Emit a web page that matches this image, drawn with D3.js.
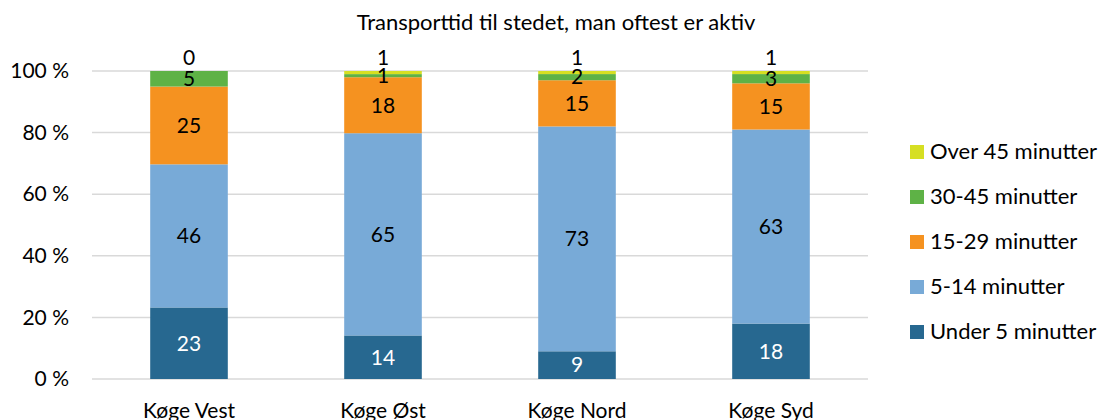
<!DOCTYPE html>
<html>
<head>
<meta charset="utf-8">
<script src="https://cdn.jsdelivr.net/npm/d3@7"></script>
<style>
  html, body { margin: 0; padding: 0; background: #fff; }
  svg { display: block; font-family: Lato, "Open Sans", sans-serif; }
</style>
</head>
<body>
<svg id="chart" width="1100" height="420"></svg>
<script>
// Areas and travel-time groups
const categories = ["Køge Vest", "Køge Øst", "Køge Nord", "Køge Syd"];
const seriesNames = ["Under 5 minutter", "5-14 minutter", "15-29 minutter", "30-45 minutter", "Over 45 minutter"];
const under5   = [23, 14, 9, 18];
const min5to14 = [46, 65, 73, 63];
const min15to29 = [25, 18, 15, 15];
const min30to45 = [5, 1, 2, 3];
const over45   = [0, 1, 1, 1];
const seriesValues = [under5, min5to14, min15to29, min30to45, over45];
const yTicks = [0, 20, 40, 60, 80, 100];
const title = "Transporttid til stedet, man oftest er aktiv";

const colors = ["#276890", "#78aad7", "#f59220", "#5eb246", "#d6df23"];
const labelColors = ["#ffffff", "#000000", "#000000", "#000000", "#000000"];

const FONT = "Lato, 'Open Sans', sans-serif";
const svg = d3.select("#chart");
const margin = { left: 92, right: 232, top: 71, bottom: 41 };
const W = 1100, H = 420;

const x = d3.scaleBand()
  .domain(categories)
  .range([margin.left, W - margin.right])
  .paddingInner(0.6)
  .paddingOuter(0.3);

const y = d3.scaleLinear()
  .domain([0, 1])
  .range([H - margin.bottom, margin.top]);

// rows for the stack
const rows = categories.map((c, i) => {
  const r = { category: c };
  seriesNames.forEach((s, j) => r[s] = seriesValues[j][i]);
  return r;
});

const stacked = d3.stack()
  .keys(seriesNames)
  .offset(d3.stackOffsetExpand)(rows);

// gridlines
svg.append("g")
  .selectAll("line")
  .data(yTicks)
  .join("line")
  .attr("x1", margin.left)
  .attr("x2", W - margin.right)
  .attr("y1", d => y(d / 100))
  .attr("y2", d => y(d / 100))
  .attr("stroke", "#d9d9d9")
  .attr("stroke-width", 1.5);

// y axis labels
const yAxis = d3.axisLeft(y)
  .tickValues(yTicks.map(d => d / 100))
  .tickFormat(d => Math.round(d * 100) + " %")
  .tickSize(0)
  .tickPadding(23);
const ya = svg.append("g")
  .attr("transform", `translate(${margin.left},0)`)
  .call(yAxis);
ya.select(".domain").remove();
ya.selectAll("text")
  .attr("font-size", 21)
  .attr("fill", "#000")
  .attr("font-family", FONT);

// bars
const layers = svg.append("g")
  .selectAll("g")
  .data(stacked)
  .join("g")
  .attr("fill", (d, i) => colors[i]);

layers.selectAll("rect")
  .data(d => d)
  .join("rect")
  .attr("x", d => x(d.data.category))
  .attr("width", x.bandwidth())
  .attr("y", d => y(d[1]))
  .attr("height", d => Math.max(0, y(d[0]) - y(d[1])));

// value labels
stacked.forEach((layer, li) => {
  svg.append("g")
    .selectAll("text")
    .data(layer)
    .join("text")
    .attr("x", d => x(d.data.category) + x.bandwidth() / 2)
    .attr("y", d => li === seriesNames.length - 1
      ? y(d[1]) - 11
      : (y(d[0]) + y(d[1])) / 2 + 2)
    .attr("text-anchor", "middle")
    .attr("dominant-baseline", "middle")
    .attr("font-size", 21)
    .attr("fill", labelColors[li])
    .text((d, i) => seriesValues[li][i]);
});

// x axis labels
const xAxis = d3.axisBottom(x).tickSize(0).tickPadding(24);
const xa = svg.append("g")
  .attr("transform", `translate(0,${H - margin.bottom})`)
  .call(xAxis);
xa.select(".domain").remove();
xa.selectAll("text")
  .attr("font-size", 21)
  .attr("fill", "#000")
  .attr("font-family", FONT);

// title
svg.append("text")
  .attr("x", 556)
  .attr("y", 30)
  .attr("text-anchor", "middle")
  .attr("font-size", 22)
  .attr("fill", "#000")
  .text(title);

// legend (top entry is the top of the stack)
const legendOrder = seriesNames.map((s, i) => i).reverse();
const legend = svg.append("g")
  .selectAll("g")
  .data(legendOrder)
  .join("g")
  .attr("transform", (d, i) => `translate(910,${152 + i * 45})`);
legend.append("rect")
  .attr("x", 0)
  .attr("y", -7)
  .attr("width", 14)
  .attr("height", 14)
  .attr("fill", d => colors[d]);
legend.append("text")
  .attr("x", 20)
  .attr("y", 1)
  .attr("dominant-baseline", "middle")
  .attr("font-size", 22)
  .attr("fill", "#000")
  .text(d => seriesNames[d]);
</script>
</body>
</html>
